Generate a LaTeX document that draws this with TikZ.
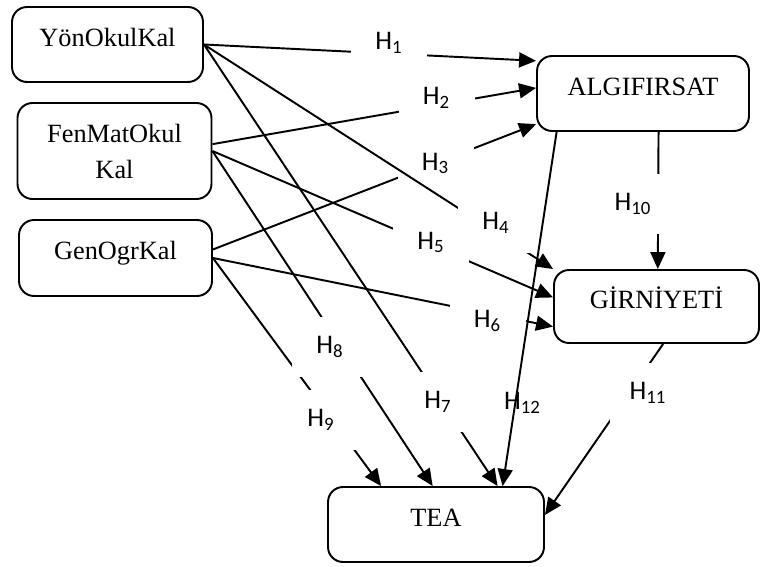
\documentclass[tikz,border=0pt]{standalone}
\usepackage{fontspec}
\setmainfont{Liberation Serif}
\newfontfamily\hypfont{Carlito}
\usetikzlibrary{arrows.meta}

\tikzset{
  varbox/.style={draw, line width=1.1pt, rounded corners=0.3cm, minimum width=3.9cm, minimum height=1.5cm,
    font=\fontsize{15}{20.5}\selectfont},
  onerow/.style={text height=10.5pt, text depth=8.7pt},
  hyp/.style={fill=white, inner sep=0pt, minimum width=1.52cm, minimum height=1.2cm,
    font=\hypfont\fontsize{15.3}{18}\selectfont},
  arr/.style={-{Triangle[length=0.34cm,width=0.3cm]}, line width=1.1pt}
}

\begin{document}
\begin{tikzpicture}[x=0.02cm, y=-0.02cm]
\useasboundingbox (0,0) rectangle (760,567);
%\draw (0,0) rectangle (760,567);

% variables
\node[varbox, onerow, minimum width=3.82cm] (yon) at (107.5,44.5) {YönOkulKal};
\node[varbox, align=center, minimum width=3.88cm, minimum height=1.92cm] (fen) at (114.5,151) {FenMatOkul\\Kal};
\node[varbox, onerow, minimum width=3.86cm, minimum height=1.52cm] (gen) at (115.5,258) {GenOgrKal};
\node[varbox, onerow, minimum width=4.24cm] (alg) at (643,93.5) {ALGIFIRSAT};
\node[varbox, onerow, minimum width=4.1cm, minimum height=1.46cm] (gir) at (656.5,306.5) {GİRNİYETİ};
\node[varbox, onerow, minimum width=4.32cm] (tea) at (436,524.5) {TEA};

% hypotheses: the label box sits on its own path, later paths run over it
\foreach \a/\b/\n/\lx/\ly in {yon.east/alg.163/1/389/42.5, fen.4/alg.177/2/436.5/97.5,
    gen.5/alg.196/3/435.5/163.5, yon.east/gir.north west/4/496/223,
    fen.east/gir.175/5/431/242.5, gen.east/gir.191/6/487.5/321,
    gen.east/tea.145/9/321/420, fen.east/tea.95/8/330/347,
    yon.east/tea.32/7/438/402, alg.292/gir.88/10/633/204,
    gir.280/tea.5/11/648/393}
{
  \draw[arr] (\a) -- (\b);
  \node[hyp] (h\n) at (\lx,\ly) {H\textsubscript{\n}};
}

\draw[arr] (alg.204) -- (tea.30);
\node[hyp, fill=none] (h12) at (522.5,403) {H\textsubscript{12}};

\end{tikzpicture}
\end{document}
